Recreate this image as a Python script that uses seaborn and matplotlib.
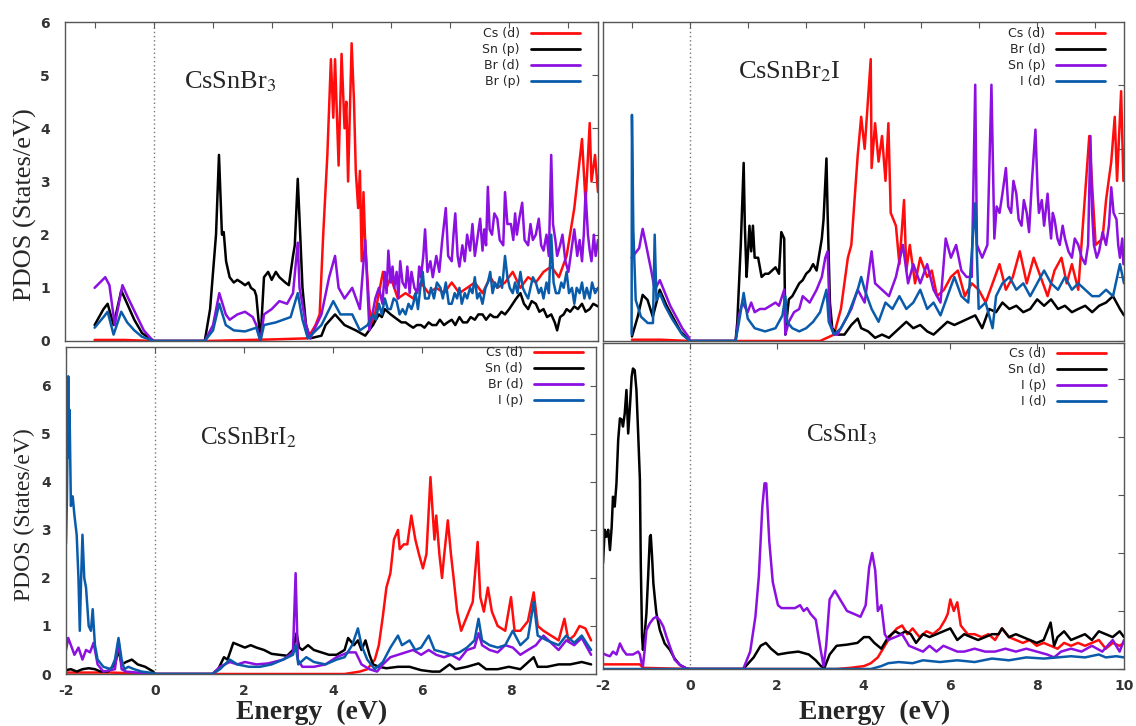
import numpy as np
import pandas as pd
import seaborn as sns
import matplotlib.pyplot as plt
from matplotlib.lines import Line2D

sns.set_style('white')
plt.rcParams['font.family'] = ['DejaVu Sans']
plt.rcParams['mathtext.fontset'] = 'stix'
plt.rcParams['axes.unicode_minus'] = False

# colours in plotting order: Cs, 2nd, 3rd, 4th curve
COLORS = ['#ff0d0d', '#000000', '#8c10e0', '#0a5cab']

# ---------------- CsSnBr3 (top left) ----------------
tl_names = ['Cs (d)', 'Sn (p)', 'Br (d)', 'Br (p)']
tl_cs_x = [-1.0, -0.5, 0.0, 0.86, 2.0, 2.6, 2.73, 2.80, 2.86, 2.93,
           2.99, 3.03, 3.06, 3.12, 3.17, 3.22, 3.25, 3.28, 3.34, 3.38,
           3.41, 3.45, 3.48, 3.51, 3.54, 3.57, 3.64, 3.70, 3.80, 3.87,
           3.93, 4.00, 4.06, 4.12, 4.25, 4.38, 4.51, 4.64, 4.77, 4.90,
           5.03, 5.16, 5.29, 5.42, 5.55, 5.68, 5.80, 5.93, 6.06, 6.19,
           6.32, 6.45, 6.58, 6.71, 6.84, 6.97, 7.10, 7.23, 7.29, 7.36,
           7.39, 7.45, 7.50]
tl_cs_y = [0.02, 0.02, 0.0, 0.0, 0.03, 0.05, 0.3, 0.5, 2.0, 3.5,
           5.3, 4.2, 5.3, 3.3, 5.4, 4.0, 4.5, 3.0, 5.6, 4.5,
           3.2, 2.5, 3.2, 1.5, 2.8, 1.8, 0.6, 0.3, 0.9, 1.3,
           1.0, 1.2, 1.0, 0.8, 0.9, 0.8, 1.1, 0.9, 1.0, 0.9,
           1.1, 0.9, 1.0, 1.1, 0.9, 1.2, 1.0, 1.1, 1.3, 1.0,
           1.2, 1.1, 1.3, 1.4, 1.2, 1.6, 2.5, 3.8, 2.6, 4.1,
           3.0, 3.5, 2.8]
tl_sn_x = [-1.0, -0.85, -0.78, -0.68, -0.55, -0.45, -0.33, -0.20, -0.05, 0.0,
           0.86, 0.95, 1.05, 1.10, 1.15, 1.18, 1.22, 1.28, 1.35, 1.41,
           1.48, 1.54, 1.60, 1.64, 1.70, 1.73, 1.80, 1.86, 1.93, 1.99,
           2.06, 2.12, 2.22, 2.28, 2.35, 2.38, 2.43, 2.46, 2.51, 2.57,
           2.64, 2.83, 2.90, 3.06, 3.22, 3.41, 3.57, 3.70, 3.75, 3.80,
           3.85, 3.90, 3.95, 4.0, 4.06, 4.12, 4.18, 4.25, 4.31, 4.38,
           4.44, 4.51, 4.57, 4.64, 4.70, 4.77, 4.83, 4.90, 4.96, 5.03,
           5.09, 5.16, 5.22, 5.29, 5.35, 5.42, 5.48, 5.55, 5.61, 5.68,
           5.74, 5.80, 5.87, 5.93, 6.0, 6.06, 6.12, 6.19, 6.25, 6.32,
           6.38, 6.45, 6.51, 6.58, 6.64, 6.71, 6.77, 6.81, 6.86, 6.92,
           6.97, 7.03, 7.10, 7.16, 7.23, 7.29, 7.36, 7.42, 7.50]
tl_sn_y = [0.3, 0.6, 0.7, 0.3, 0.95, 0.7, 0.4, 0.15, 0.03, 0.0,
           0.0, 0.6, 2.0, 3.5, 2.0, 2.05, 1.5, 1.2, 1.1, 1.15,
           1.1, 1.05, 1.1, 1.0, 0.95, 0.85, 0.0, 1.2, 1.3, 1.15,
           1.3, 1.2, 1.1, 1.05, 1.6, 1.8, 3.05, 2.3, 1.0, 0.3,
           0.05, 0.1, 0.3, 0.5, 0.3, 0.2, 0.1, 0.3, 0.4, 0.5,
           0.45, 0.6, 0.55, 0.5, 0.45, 0.4, 0.35, 0.35, 0.3, 0.25,
           0.3, 0.3, 0.25, 0.35, 0.3, 0.3, 0.4, 0.3, 0.35, 0.4,
           0.3, 0.45, 0.35, 0.35, 0.45, 0.4, 0.5, 0.5, 0.4, 0.5,
           0.45, 0.45, 0.55, 0.5, 0.6, 0.7, 0.8, 0.9, 0.7, 0.6,
           0.75, 0.7, 0.55, 0.6, 0.45, 0.5, 0.35, 0.2, 0.45, 0.5,
           0.6, 0.55, 0.65, 0.6, 0.7, 0.55, 0.6, 0.7, 0.65]
tl_brd_x = [-1.0, -0.82, -0.75, -0.66, -0.53, -0.43, -0.30, -0.17, -0.05, 0.0,
            0.86, 1.0, 1.105, 1.215, 1.28, 1.41, 1.54, 1.67, 1.73, 1.80,
            1.86, 1.99, 2.12, 2.25, 2.35, 2.43, 2.46, 2.57, 2.64, 2.83,
            2.96, 3.06, 3.12, 3.22, 3.35, 3.48, 3.57, 3.64, 3.74, 3.80,
            3.86, 3.90, 3.93, 3.96, 4.00, 4.03, 4.06, 4.10, 4.13, 4.16,
            4.20, 4.25, 4.28, 4.32, 4.35, 4.40, 4.45, 4.48, 4.51, 4.55,
            4.58, 4.62, 4.67, 4.71, 4.77, 4.82, 4.87, 4.93, 4.97, 5.03,
            5.06, 5.09, 5.13, 5.16, 5.21, 5.25, 5.29, 5.34, 5.38, 5.42,
            5.46, 5.51, 5.55, 5.58, 5.61, 5.64, 5.67, 5.71, 5.75, 5.80,
            5.84, 5.90, 5.93, 5.97, 6.03, 6.07, 6.10, 6.13, 6.17, 6.22,
            6.26, 6.32, 6.36, 6.40, 6.45, 6.50, 6.54, 6.58, 6.63, 6.67,
            6.71, 6.74, 6.78, 6.81, 6.86, 6.90, 6.95, 7.0, 7.05, 7.10,
            7.15, 7.19, 7.23, 7.26, 7.29, 7.33, 7.36, 7.39, 7.43, 7.46,
            7.50]
tl_brd_y = [1.0, 1.2, 1.05, 0.3, 1.05, 0.8, 0.5, 0.2, 0.05, 0.0,
            0.0, 0.3, 0.9, 0.5, 0.4, 0.5, 0.55, 0.45, 0.3, 0.0,
            0.5, 0.6, 0.75, 0.7, 0.9, 1.85, 1.0, 0.3, 0.05, 0.5,
            1.2, 1.6, 1.0, 0.8, 1.0, 0.6, 1.9, 0.2, 0.8, 1.0,
            0.7, 1.3, 0.9, 1.7, 1.1, 1.4, 1.0, 1.3, 0.8, 1.5,
            1.1, 1.0, 1.4, 0.9, 1.3, 1.0, 0.9, 1.4, 1.2, 1.6,
            2.1, 1.3, 1.5, 1.2, 1.6, 1.3, 1.9, 2.5, 1.6, 1.5,
            2.0, 2.4, 1.6, 1.4, 1.8, 1.5, 2.0, 1.7, 2.2, 1.6,
            1.9, 2.3, 1.7, 2.1, 1.8, 2.9, 2.1, 2.0, 2.4, 2.3,
            1.9, 1.8, 2.8, 2.2, 2.2, 1.9, 2.4, 2.0, 2.3, 2.6,
            1.9, 1.8, 2.2, 1.9, 2.0, 2.3, 1.8, 1.7, 2.0, 1.6,
            3.5, 2.2, 1.9, 1.6, 1.8, 2.0, 1.5, 1.3, 1.7, 2.1,
            1.6, 1.9, 1.5, 2.0, 2.8, 2.0, 1.7, 1.5, 2.0, 1.6,
            1.9]
tl_brp_x = [-1.0, -0.85, -0.78, -0.68, -0.55, -0.45, -0.33, -0.20, -0.05, 0.0,
            0.86, 1.0, 1.105, 1.215, 1.35, 1.54, 1.73, 1.80, 1.86, 2.06,
            2.31, 2.43, 2.51, 2.60, 2.83, 3.03, 3.15, 3.35, 3.48, 3.61,
            3.70, 3.75, 3.80, 3.85, 3.90, 3.95, 4.0, 4.05, 4.10, 4.15,
            4.20, 4.25, 4.30, 4.35, 4.38, 4.42, 4.46, 4.50, 4.54, 4.58,
            4.64, 4.68, 4.73, 4.78, 4.84, 4.88, 4.93, 4.98, 5.03, 5.08,
            5.12, 5.16, 5.20, 5.25, 5.29, 5.34, 5.38, 5.42, 5.46, 5.50,
            5.55, 5.60, 5.64, 5.68, 5.72, 5.76, 5.80, 5.84, 5.88, 5.93,
            5.97, 6.01, 6.06, 6.10, 6.14, 6.19, 6.23, 6.27, 6.32, 6.36,
            6.40, 6.45, 6.50, 6.54, 6.58, 6.63, 6.67, 6.71, 6.75, 6.79,
            6.84, 6.88, 6.92, 6.97, 7.01, 7.06, 7.10, 7.14, 7.19, 7.23,
            7.27, 7.31, 7.36, 7.40, 7.45, 7.50]
tl_brp_y = [0.25, 0.45, 0.55, 0.12, 0.55, 0.35, 0.2, 0.08, 0.02, 0.0,
            0.0, 0.2, 0.7, 0.3, 0.2, 0.18, 0.25, 0.0, 0.3, 0.35,
            0.45, 0.9, 0.4, 0.05, 0.3, 0.75, 0.5, 0.5, 0.2, 0.3,
            0.5, 0.4, 0.7, 0.5, 0.8, 0.6, 0.6, 0.8, 0.75, 0.5,
            0.6, 0.5, 0.7, 0.6, 0.7, 0.9, 0.6, 1.0, 1.3, 0.8,
            0.8, 1.0, 0.8, 1.1, 1.0, 0.8, 1.1, 0.7, 0.7, 0.9,
            0.8, 1.0, 0.7, 0.9, 0.8, 1.0, 0.9, 1.2, 0.8, 0.9,
            0.7, 1.0, 1.1, 1.3, 0.9, 1.1, 1.0, 1.2, 1.0, 1.6,
            1.2, 1.0, 0.9, 1.1, 0.9, 1.3, 1.0, 0.9, 0.8, 1.0,
            1.2, 1.1, 0.9, 1.0, 0.8, 1.1, 0.9, 2.0, 1.1, 0.9,
            0.9, 1.1, 1.0, 1.3, 0.9, 1.0, 0.7, 1.0, 0.9, 1.1,
            0.8, 1.0, 0.8, 1.1, 0.9, 1.0]

# ---------------- CsSnBr2I (top right) ----------------
tr_names = ['Cs (d)', 'Br (d)', 'Sn (p)', 'I (d)']
tr_cs_x = [-1.0, -0.5, 0.0, 0.79, 2.25, 2.49, 2.61, 2.73, 2.79, 2.90,
           2.96, 3.02, 3.125, 3.14, 3.20, 3.26, 3.32, 3.38, 3.43, 3.47,
           3.56, 3.62, 3.70, 3.74, 3.80, 3.89, 3.98, 4.10, 4.18, 4.27,
           4.39, 4.51, 4.63, 4.75, 4.87, 4.99, 5.11, 5.23, 5.35, 5.46,
           5.58, 5.70, 5.82, 5.94, 6.06, 6.18, 6.30, 6.42, 6.51, 6.60,
           6.71, 6.90, 7.01, 7.13, 7.19, 7.28, 7.34, 7.38, 7.45, 7.49]
tr_cs_y = [0.02, 0.02, 0.0, 0.0, 0.0, 0.1, 0.5, 1.3, 1.5, 2.9,
           3.5, 3.0, 4.4, 2.7, 3.4, 2.8, 3.2, 2.5, 3.4, 2.0,
           1.8, 1.2, 2.2, 1.1, 1.5, 0.9, 1.3, 1.0, 1.1, 0.7,
           0.8, 1.0, 1.1, 0.7, 0.9, 0.8, 0.6, 0.9, 1.2, 0.8,
           1.0, 1.4, 0.9, 1.3, 1.0, 0.7, 1.1, 1.3, 0.9, 1.2,
           0.8, 3.2, 1.5, 1.6, 2.2, 2.8, 3.5, 2.5, 3.9, 2.5]
tr_br_x = [-1.0, -0.9, -0.815, -0.73, -0.64, -0.52, -0.40, -0.28, -0.16, -0.03,
           0.0, 0.79, 0.82, 0.88, 0.93, 0.95, 0.98, 1.0, 1.03, 1.06,
           1.09, 1.12, 1.18, 1.24, 1.30, 1.36, 1.42, 1.48, 1.54, 1.58,
           1.63, 1.65, 1.68, 1.71, 1.77, 1.83, 1.89, 1.95, 2.01, 2.07,
           2.13, 2.19, 2.28, 2.31, 2.36, 2.38, 2.42, 2.46, 2.55, 2.67,
           2.79, 2.90, 2.96, 3.08, 3.20, 3.32, 3.44, 3.56, 3.74, 3.86,
           3.98, 4.10, 4.21, 4.33, 4.45, 4.57, 4.69, 4.81, 4.93, 5.05,
           5.17, 5.29, 5.40, 5.52, 5.64, 5.76, 5.88, 6.0, 6.12, 6.24,
           6.36, 6.48, 6.60, 6.71, 6.83, 6.95, 7.07, 7.19, 7.31, 7.43, 7.50]
tr_br_y = [0.07, 0.38, 0.72, 0.64, 0.38, 0.8, 0.55, 0.35, 0.15, 0.03,
           0.0, 0.0, 0.3, 1.5, 2.78, 1.8, 1.0, 1.3, 1.8, 1.4,
           1.8, 1.3, 1.3, 1.0, 1.05, 1.05, 1.1, 1.15, 1.05, 1.7,
           1.6, 0.1, 0.4, 0.65, 0.7, 0.8, 0.9, 0.95, 1.05, 1.1,
           1.2, 1.1, 1.6, 1.9, 2.85, 2.0, 0.6, 0.2, 0.1, 0.1,
           0.25, 0.35, 0.2, 0.15, 0.05, 0.1, 0.05, 0.15, 0.3, 0.2,
           0.25, 0.15, 0.1, 0.2, 0.3, 0.25, 0.3, 0.35, 0.4, 0.2,
           0.5, 0.45, 0.6, 0.5, 0.55, 0.45, 0.5, 0.65, 0.55, 0.65,
           0.5, 0.55, 0.45, 0.5, 0.55, 0.45, 0.55, 0.6, 0.7, 0.5, 0.4]
tr_sn_x = [-1.006, -0.96, -0.875, -0.815, -0.756, -0.667, -0.607, -0.518, -0.429, -0.339,
           -0.25, -0.131, -0.012, 0.0, 0.79, 0.85, 0.91, 1.0, 1.06, 1.12,
           1.21, 1.30, 1.39, 1.48, 1.54, 1.63, 1.65, 1.71, 1.80, 1.89,
           1.95, 2.07, 2.19, 2.28, 2.34, 2.38, 2.42, 2.49, 2.55, 2.67,
           2.79, 2.90, 3.02, 3.14, 3.20, 3.32, 3.44, 3.56, 3.68, 3.77,
           3.86, 3.98, 4.10, 4.21, 4.33, 4.42, 4.51, 4.60, 4.69, 4.78,
           4.87, 4.93, 4.96, 5.05, 5.14, 5.21, 5.26, 5.30, 5.35, 5.40,
           5.46, 5.50, 5.55, 5.59, 5.64, 5.68, 5.73, 5.77, 5.82, 5.86,
           5.91, 5.97, 6.01, 6.03, 6.08, 6.12, 6.18, 6.21, 6.24, 6.27,
           6.30, 6.35, 6.39, 6.44, 6.48, 6.54, 6.60, 6.65, 6.71, 6.77,
           6.83, 6.88, 6.92, 6.95, 6.98, 7.03, 7.07, 7.13, 7.19, 7.24,
           7.28, 7.32, 7.37, 7.40, 7.43, 7.47, 7.49]
tr_sn_y = [1.3, 1.35, 1.45, 1.75, 1.5, 1.1, 0.8, 0.95, 0.75, 0.55,
           0.4, 0.2, 0.05, 0.0, 0.0, 0.4, 0.6, 0.45, 0.6, 0.45,
           0.5, 0.5, 0.55, 0.6, 0.55, 0.8, 0.1, 0.3, 0.45, 0.5,
           0.7, 0.6, 0.8, 1.0, 1.3, 1.4, 0.3, 0.1, 0.1, 0.3,
           0.5, 0.8, 0.6, 1.4, 0.9, 0.8, 0.7, 1.0, 1.5, 0.9,
           1.2, 0.9, 1.2, 0.8, 0.6, 1.6, 1.3, 1.5, 1.1, 1.0,
           1.0, 4.0, 1.5, 1.3, 1.5, 4.0, 1.6, 2.1, 2.0, 2.3,
           2.7, 2.1, 2.0, 2.5, 2.3, 1.9, 1.8, 2.2, 2.0, 1.7,
           2.5, 3.3, 2.3, 2.0, 2.2, 1.8, 2.3, 1.9, 1.6, 2.0,
           1.9, 1.6, 1.5, 1.8, 1.6, 1.4, 1.3, 1.6, 1.5, 1.3,
           1.2, 1.5, 3.2, 2.0, 1.5, 1.3, 1.4, 1.7, 1.5, 1.8,
           2.4, 2.0, 1.9, 1.5, 1.3, 1.6, 1.2]
tr_i_x = [-1.006, -1.0, -0.976, -0.935, -0.845, -0.726, -0.637, -0.607, -0.577, -0.518,
          -0.429, -0.31, -0.131, 0.0, 0.79, 0.85, 0.93, 1.0, 1.12, 1.30,
          1.48, 1.60, 1.65, 1.68, 1.77, 1.89, 2.01, 2.13, 2.25, 2.36,
          2.40, 2.49, 2.61, 2.73, 2.90, 2.96, 3.02, 3.14, 3.26, 3.38,
          3.50, 3.62, 3.74, 3.86, 3.98, 4.10, 4.21, 4.33, 4.45, 4.57,
          4.69, 4.81, 4.93, 4.99, 5.11, 5.23, 5.29, 5.40, 5.52, 5.64,
          5.76, 5.88, 6.0, 6.12, 6.24, 6.36, 6.48, 6.60, 6.71, 6.83,
          6.95, 7.07, 7.19, 7.31, 7.43, 7.50]
tr_i_y = [0.1, 3.53, 1.73, 0.64, 0.38, 0.28, 0.28, 1.66, 0.64, 0.74,
          0.55, 0.35, 0.1, 0.0, 0.0, 0.3, 0.75, 0.35, 0.2, 0.15,
          0.2, 0.4, 0.7, 0.3, 0.2, 0.15, 0.2, 0.3, 0.45, 0.8,
          0.3, 0.1, 0.2, 0.4, 0.8, 1.0, 0.8, 0.5, 0.3, 0.6,
          0.5, 0.7, 0.5, 0.6, 0.8, 0.5, 0.6, 0.4, 0.7, 1.0,
          0.7, 0.6, 2.15, 0.5, 0.6, 0.2, 0.7, 0.9, 1.0, 0.8,
          0.9, 0.7, 0.9, 1.1, 0.9, 0.8, 1.0, 0.8, 0.9, 0.8,
          0.7, 0.7, 0.8, 0.7, 1.2, 0.9]

# ---------------- CsSnBrI2 (bottom left) ----------------
bl_names = ['Cs (d)', 'Sn (d)', 'Br (d)', 'I (p)']
bl_cs_x = [-2.0, -1.0, 0.0, 1.29, 4.26, 4.60, 4.77, 4.94, 5.03, 5.12,
           5.20, 5.29, 5.37, 5.46, 5.50, 5.59, 5.67, 5.76, 5.85, 5.93,
           6.02, 6.10, 6.19, 6.23, 6.28, 6.32, 6.39, 6.45, 6.49, 6.58,
           6.65, 6.71, 6.79, 6.88, 7.01, 7.14, 7.25, 7.31, 7.39, 7.48,
           7.57, 7.70, 7.87, 8.0, 8.08, 8.21, 8.38, 8.51, 8.60, 8.73,
           8.90, 9.07, 9.20, 9.29, 9.42, 9.54, 9.67, 9.80]
bl_cs_y = [0.03, 0.03, 0.0, 0.0, 0.0, 0.05, 0.1, 0.3, 0.6, 1.2,
           1.8, 2.1, 2.8, 3.0, 2.6, 2.7, 2.7, 3.3, 2.8, 2.5,
           2.2, 2.5, 4.1, 3.5, 2.8, 3.3, 2.5, 2.0, 2.4, 3.2,
           2.5, 2.0, 1.3, 0.9, 1.2, 1.5, 2.75, 1.6, 1.3, 1.8,
           1.3, 1.0, 0.9, 1.6, 0.9, 0.9, 1.1, 1.7, 1.0, 0.9,
           0.8, 0.7, 1.15, 0.7, 0.8, 1.0, 0.95, 0.7]
bl_sn_x = [-2.0, -1.89, -1.76, -1.63, -1.49, -1.35, -1.22, -1.06, -0.90, -0.82,
           -0.75, -0.65, -0.52, -0.39, -0.22, -0.04, 0.0, 1.29, 1.42, 1.55,
           1.63, 1.76, 1.89, 2.02, 2.15, 2.28, 2.45, 2.62, 2.79, 2.97,
           3.10, 3.18, 3.24, 3.31, 3.44, 3.57, 3.74, 3.91, 4.08, 4.26,
           4.34, 4.47, 4.56, 4.64, 4.73, 4.82, 4.90, 5.03, 5.20, 5.46,
           5.72, 5.98, 6.23, 6.40, 6.62, 6.75, 7.01, 7.27, 7.44, 7.70,
           7.95, 8.21, 8.51, 8.60, 8.81, 9.07, 9.33, 9.59, 9.80]
bl_sn_y = [0.08, 0.1, 0.05, 0.1, 0.12, 0.1, 0.05, 0.05, 0.2, 0.5,
           0.2, 0.25, 0.3, 0.2, 0.15, 0.05, 0.0, 0.0, 0.1, 0.35,
           0.3, 0.65, 0.6, 0.55, 0.6, 0.55, 0.5, 0.42, 0.4, 0.38,
           0.5, 0.85, 0.55, 0.5, 0.6, 0.5, 0.45, 0.4, 0.4, 0.5,
           0.75, 0.6, 0.7, 0.5, 0.7, 0.4, 0.2, 0.15, 0.12, 0.15,
           0.15, 0.08, 0.05, 0.05, 0.2, 0.1, 0.15, 0.22, 0.1, 0.1,
           0.15, 0.1, 0.35, 0.15, 0.15, 0.2, 0.2, 0.25, 0.2]
bl_br_x = [-2.0, -1.95, -1.89, -1.81, -1.72, -1.63, -1.55, -1.46, -1.38, -1.29,
           -1.16, -0.90, -0.82, -0.75, -0.65, -0.04, 0.0, 1.29, 1.46, 1.68,
           1.85, 2.02, 2.28, 2.54, 2.88, 3.10, 3.16, 3.21, 3.31, 3.57,
           3.83, 4.08, 4.34, 4.51, 4.64, 4.82, 4.99, 5.12, 5.29, 5.46,
           5.63, 5.80, 5.98, 6.15, 6.32, 6.49, 6.66, 6.84, 7.01, 7.18,
           7.27, 7.35, 7.52, 7.70, 7.87, 8.04, 8.21, 8.38, 8.56, 8.73,
           8.90, 9.07, 9.24, 9.42, 9.59, 9.80]
bl_br_y = [0.5, 0.75, 0.6, 0.4, 0.55, 0.3, 0.5, 0.45, 0.65, 0.2,
           0.05, 0.1, 0.7, 0.1, 0.05, 0.0, 0.0, 0.0, 0.15, 0.25,
           0.2, 0.25, 0.2, 0.22, 0.3, 0.45, 2.1, 0.3, 0.15, 0.15,
           0.2, 0.35, 0.45, 0.45, 0.2, 0.1, 0.05, 0.2, 0.35, 0.4,
           0.45, 0.5, 0.4, 0.5, 0.4, 0.35, 0.4, 0.3, 0.5, 0.55,
           0.85, 0.6, 0.5, 0.45, 0.6, 0.55, 0.4, 0.5, 0.6, 0.8,
           0.65, 0.5, 0.7, 0.6, 0.75, 0.4]
bl_i_x = [-2.0, -1.98, -1.95, -1.93, -1.92, -1.89, -1.85, -1.81, -1.76, -1.72,
          -1.69, -1.66, -1.63, -1.59, -1.55, -1.49, -1.44, -1.40, -1.35, -1.29,
          -1.16, -0.99, -0.90, -0.82, -0.75, -0.69, -0.60, -0.47, -0.30, -0.04,
          0.0, 1.29, 1.46, 1.68, 1.85, 2.11, 2.36, 2.62, 2.88, 3.10,
          3.16, 3.22, 3.40, 3.57, 3.83, 4.08, 4.26, 4.43, 4.56, 4.64,
          4.77, 4.94, 5.12, 5.29, 5.46, 5.55, 5.72, 5.85, 5.98, 6.15,
          6.28, 6.49, 6.66, 6.84, 7.01, 7.18, 7.27, 7.35, 7.52, 7.70,
          7.87, 8.04, 8.21, 8.38, 8.51, 8.60, 8.81, 9.07, 9.24, 9.42,
          9.59, 9.80]
bl_i_y = [2.72, 3.6, 6.2, 4.5, 5.5, 3.5, 3.7, 3.3, 2.9, 2.0,
          0.9, 2.0, 2.9, 2.0, 1.8, 1.0, 0.9, 1.35, 0.6, 0.3,
          0.15, 0.1, 0.3, 0.75, 0.3, 0.1, 0.15, 0.1, 0.05, 0.02,
          0.0, 0.0, 0.1, 0.3, 0.2, 0.15, 0.15, 0.2, 0.3, 0.4,
          0.6, 0.2, 0.35, 0.25, 0.2, 0.3, 0.35, 0.6, 0.95, 0.6,
          0.3, 0.1, 0.25, 0.55, 0.8, 0.6, 0.7, 0.5, 0.55, 0.8,
          0.5, 0.45, 0.4, 0.45, 0.55, 0.7, 1.15, 0.7, 0.6, 0.55,
          0.6, 0.9, 0.6, 0.75, 1.5, 0.8, 0.7, 0.6, 0.8, 0.65,
          0.8, 0.5]

# ---------------- CsSnI3 (bottom right) ----------------
br_names = ['Cs (d)', 'Sn (d)', 'I (p)', 'I (d)']
br_cs_x = [-2.0, -1.15, -1.08, 0.0, 3.38, 3.70, 4.01, 4.17, 4.33, 4.49,
           4.65, 4.77, 4.89, 5.01, 5.13, 5.29, 5.45, 5.60, 5.76, 5.88,
           5.94, 6.0, 6.08, 6.16, 6.24, 6.40, 6.56, 6.72, 6.88, 7.03,
           7.19, 7.35, 7.51, 7.67, 7.83, 7.99, 8.15, 8.31, 8.47, 8.62,
           8.78, 8.94, 9.10, 9.26, 9.42, 9.58, 9.74, 9.90, 10.0]
br_cs_y = [0.08, 0.08, 0.02, 0.0, 0.0, 0.02, 0.05, 0.1, 0.2, 0.4,
           0.6, 0.7, 0.75, 0.6, 0.7, 0.55, 0.65, 0.6, 0.7, 0.85,
           0.95, 1.2, 1.0, 1.15, 0.75, 0.6, 0.6, 0.55, 0.6, 0.5,
           0.7, 0.55, 0.5, 0.45, 0.5, 0.4, 0.45, 0.4, 0.35, 0.45,
           0.4, 0.45, 0.4, 0.45, 0.5, 0.35, 0.45, 0.4, 0.45]
br_sn_x = [-2.0, -1.96, -1.92, -1.88, -1.84, -1.80, -1.77, -1.73, -1.69, -1.65,
           -1.61, -1.57, -1.54, -1.50, -1.46, -1.42, -1.38, -1.34, -1.31, -1.27,
           -1.23, -1.19, -1.15, -1.13, -1.10, -1.08, -1.04, -1.0, -0.96, -0.92,
           -0.90, -0.87, -0.84, -0.81, -0.77, -0.69, -0.58, -0.46, -0.35, -0.23,
           -0.08, 0.0, 1.23, 1.47, 1.63, 1.75, 1.87, 2.03, 2.27, 2.50,
           2.74, 2.90, 3.02, 3.10, 3.22, 3.38, 3.62, 3.86, 4.01, 4.13,
           4.25, 4.41, 4.57, 4.73, 4.85, 4.97, 5.09, 5.21, 5.37, 5.52,
           5.68, 5.84, 6.0, 6.16, 6.32, 6.48, 6.64, 6.80, 6.96, 7.11,
           7.19, 7.35, 7.51, 7.67, 7.83, 7.99, 8.15, 8.31, 8.39, 8.47,
           8.62, 8.78, 8.94, 9.10, 9.26, 9.42, 9.58, 9.74, 9.90, 10.0]
br_sn_y = [1.82, 2.4, 2.28, 2.4, 2.05, 2.45, 2.97, 2.8, 3.2, 3.95,
           4.32, 4.3, 4.18, 4.4, 4.81, 4.06, 4.52, 5.04, 5.18, 5.15,
           4.81, 4.06, 3.26, 1.82, 0.56, 0.33, 0.6, 0.96, 1.6, 2.28,
           2.31, 1.94, 1.48, 1.25, 0.96, 0.67, 0.44, 0.33, 0.18, 0.07,
           0.01, 0.0, 0.0, 0.2, 0.4, 0.45, 0.35, 0.25, 0.28, 0.3,
           0.25, 0.15, 0.05, 0.02, 0.25, 0.4, 0.42, 0.45, 0.55, 0.55,
           0.45, 0.35, 0.55, 0.65, 0.6, 0.65, 0.6, 0.45, 0.6, 0.55,
           0.6, 0.65, 0.7, 0.5, 0.6, 0.55, 0.5, 0.55, 0.6, 0.6,
           0.7, 0.55, 0.6, 0.55, 0.5, 0.45, 0.5, 0.8, 0.4, 0.55,
           0.65, 0.5, 0.55, 0.6, 0.5, 0.65, 0.6, 0.55, 0.65, 0.55]
br_ip_x = [-2.0, -1.92, -1.84, -1.77, -1.69, -1.61, -1.54, -1.46, -1.31, -1.19,
           -1.15, -1.11, -1.08, -1.04, -1.0, -0.92, -0.84, -0.77, -0.69, -0.61,
           -0.54, -0.46, -0.35, -0.23, -0.08, 0.0, 1.23, 1.39, 1.51, 1.59,
           1.67, 1.72, 1.76, 1.83, 1.91, 2.03, 2.11, 2.27, 2.42, 2.54,
           2.62, 2.70, 2.78, 2.90, 3.02, 3.08, 3.14, 3.22, 3.34, 3.46,
           3.62, 3.78, 3.93, 4.05, 4.13, 4.20, 4.27, 4.33, 4.41, 4.49,
           4.57, 4.73, 4.89, 5.05, 5.21, 5.37, 5.52, 5.68, 5.84, 6.0,
           6.16, 6.32, 6.56, 6.80, 7.03, 7.27, 7.51, 7.75, 7.99, 8.23,
           8.39, 8.55, 8.78, 9.02, 9.26, 9.50, 9.74, 9.90, 10.0]
br_ip_y = [0.27, 0.24, 0.22, 0.3, 0.25, 0.44, 0.33, 0.25, 0.25, 0.3,
           0.25, 0.1, 0.05, 0.33, 0.67, 0.79, 0.87, 0.9, 0.84, 0.73,
           0.56, 0.39, 0.16, 0.07, 0.01, 0.0, 0.0, 0.3, 0.9, 1.6,
           2.8, 3.2, 3.2, 2.2, 1.5, 1.1, 1.05, 1.05, 1.05, 1.1,
           1.0, 1.05, 0.95, 0.85, 0.3, 0.05, 0.4, 1.2, 1.35, 1.2,
           1.0, 0.95, 0.9, 1.1, 1.75, 2.0, 1.7, 1.0, 1.1, 0.6,
           0.5, 0.55, 0.6, 0.4, 0.35, 0.3, 0.4, 0.3, 0.4, 0.35,
           0.3, 0.3, 0.35, 0.3, 0.3, 0.35, 0.3, 0.35, 0.3, 0.25,
           0.2, 0.3, 0.35, 0.3, 0.4, 0.3, 0.5, 0.3, 0.5]
br_id_x = [-2.0, 0.0, 4.17, 4.41, 4.57, 4.81, 5.13, 5.37, 5.76, 6.16,
           6.56, 6.96, 7.35, 7.75, 8.15, 8.47, 8.78, 9.10, 9.42, 9.58,
           9.82, 10.0]
br_id_y = [0.0, 0.0, 0.0, 0.05, 0.1, 0.12, 0.1, 0.15, 0.12, 0.15,
           0.12, 0.18, 0.15, 0.2, 0.18, 0.2, 0.22, 0.2, 0.25, 0.2,
           0.22, 0.2]

W, H = 1136, 726
fig = plt.figure(figsize=(W / 100, H / 100), dpi=100)


def add_ax(l, t, r, b):
    return fig.add_axes([l / W, 1 - b / H, (r - l) / W, (b - t) / H])


def draw_panel(ax, curves, names, xlim, ylim, xticks, yticks, title, title_xy,
               title_size, leg_xy, xlabels=False, ylabels=False):
    df = pd.concat([pd.DataFrame({'energy': x, 'pdos': y, 'orbital': n})
                    for (x, y), n in zip(curves, names)], ignore_index=True)
    sns.lineplot(data=df, x='energy', y='pdos', hue='orbital', hue_order=names,
                 palette=dict(zip(names, COLORS)), estimator=None, sort=False,
                 linewidth=1.8, legend=False, ax=ax)
    ax.axvline(0, color='#777777', ls=(0, (1, 2)), lw=1.0, zorder=0)
    ax.set_xlim(*xlim)
    ax.set_ylim(*ylim)
    ax.set_xticks(xticks)
    ax.set_yticks(yticks)
    ax.set_xlabel('')
    ax.set_ylabel('')
    for s in ax.spines.values():
        s.set_color('#555555')
        s.set_linewidth(1.0)
    ax.tick_params(direction='in', length=4, width=0.8, color='#555555',
                   top=True, right=True, labelsize=10, labelcolor='#333333',
                   labelbottom=xlabels, labelleft=ylabels)
    ax.tick_params(axis='x', pad=7)
    ax.tick_params(axis='y', pad=11)
    for lab in ax.get_xticklabels() + ax.get_yticklabels():
        lab.set_fontweight('bold')
    fig.text(title_xy[0] / W, 1 - title_xy[1] / H, title, ha='center', va='center',
             fontsize=title_size, family='Liberation Serif')
    handles = [Line2D([], [], color=c, lw=2) for c in COLORS]
    ax.legend(handles, names, loc='upper right',
              bbox_to_anchor=(leg_xy[0] / W, 1 - leg_xy[1] / H),
              bbox_transform=fig.transFigure, frameon=False, markerfirst=False,
              handlelength=3.9, handletextpad=0.9, labelspacing=0.25,
              borderpad=0, borderaxespad=0, fontsize=9)


ax_tl = add_ax(65, 22, 598, 341)
ax_tr = add_ax(603, 22, 1124, 341)
ax_bl = add_ax(66, 347, 596, 674)
ax_br = add_ax(603, 343, 1124, 669)

draw_panel(ax_tl, [(tl_cs_x, tl_cs_y), (tl_sn_x, tl_sn_y), (tl_brd_x, tl_brd_y), (tl_brp_x, tl_brp_y)],
           tl_names, (-1.5, 7.5), (0, 6), np.arange(-1, 8), np.arange(0, 7),
           'CsSnBr$_3$', (230, 82), 19, (580, 27), ylabels=True)
draw_panel(ax_tr, [(tr_cs_x, tr_cs_y), (tr_br_x, tr_br_y), (tr_sn_x, tr_sn_y), (tr_i_x, tr_i_y)],
           tr_names, (-1.5, 7.5), (0, 4.98), np.arange(-1, 8), np.arange(0, 5),
           'CsSnBr$_2$I', (789, 72), 19, (1105, 27))
draw_panel(ax_bl, [(bl_cs_x, bl_cs_y), (bl_sn_x, bl_sn_y), (bl_br_x, bl_br_y), (bl_i_x, bl_i_y)],
           bl_names, (-2, 9.91), (0, 6.81), np.arange(-2, 9, 2), np.arange(0, 7),
           'CsSnBrI$_2$', (248, 438), 18, (583, 346), xlabels=True, ylabels=True)
draw_panel(ax_br, [(br_cs_x, br_cs_y), (br_sn_x, br_sn_y), (br_ip_x, br_ip_y), (br_id_x, br_id_y)],
           br_names, (-2, 10), (0, 5.62), np.arange(-2, 11, 2), np.arange(0, 6),
           'CsSnI$_3$', (842, 435), 18, (1106, 347), xlabels=True)

# axis titles
fig.text(25 / W, 1 - 205 / H, 'PDOS (States/eV)', rotation=90, ha='center', va='center',
         fontsize=19, family='Liberation Serif')
fig.text(24 / W, 1 - 515 / H, 'PDOS (States/eV)', rotation=90, ha='center', va='center',
         fontsize=17, family='Liberation Serif')
fig.text(312 / W, 1 - 712 / H, 'Energy  (eV)', ha='center', va='center',
         fontsize=20, fontweight='bold', family='Liberation Serif')
fig.text(875 / W, 1 - 712 / H, 'Energy  (eV)', ha='center', va='center',
         fontsize=20, fontweight='bold', family='Liberation Serif')

fig.savefig('out.png', dpi=100)
